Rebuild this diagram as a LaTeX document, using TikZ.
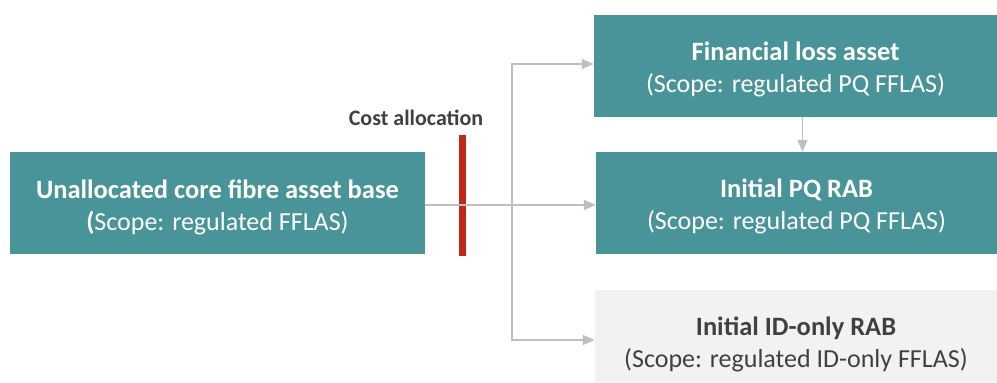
\documentclass[tikz,border=0pt]{standalone}
\usepackage{fontspec}
\setmainfont{Carlito}
\usetikzlibrary{arrows.meta,calc}
\definecolor{tealbox}{RGB}{73,148,153}
\definecolor{greybox}{RGB}{242,242,242}
\definecolor{linegrey}{RGB}{191,191,191}
\definecolor{cutred}{RGB}{192,40,26}
\definecolor{darktext}{RGB}{64,64,64}
\newcommand{\titletxt}[1]{{\fontsize{26.5}{32}\selectfont\bfseries #1}}
\newcommand{\scopetxt}[1]{{\fontsize{26}{32}\selectfont #1}}
\tikzset{
  assetbox/.style={rectangle, fill=tealbox, inner sep=0pt, minimum height=102pt},
  idbox/.style={assetbox, fill=greybox},
  boxtext/.style={align=center, inner sep=0pt, text=white, font=\fontsize{26}{32}\selectfont},
  idtext/.style={boxtext, text=darktext},
  conn/.style={draw=linegrey, line width=1.6pt, -{Triangle[length=12pt,width=10pt]}},
  cutbar/.style={rectangle, fill=cutred, inner sep=0pt, minimum width=7pt, minimum height=121pt},
}
\begin{document}
\begin{tikzpicture}[x=1pt,y=-1pt]
\useasboundingbox (0,0) rectangle (997,383);

% boxes
\node[assetbox, minimum width=415pt] (L) at (217.5,203) {};
\node[assetbox, minimum width=403pt] (T) at (795.5,66) {};
\node[assetbox, minimum width=401pt] (M) at (796.5,203) {};
\node[idbox, minimum width=402pt] (B) at (796,341) {};

% box captions, set slightly below the box centres
\node[boxtext] (Ltext) at ([yshift=-4pt]L.center)
  {\titletxt{Unallocated core fibre asset base}\\\scopetxt{\textbf{(}Scope: regulated FFLAS)}};
\node[boxtext] (Ttext) at ([yshift=-3.5pt]T.center)
  {\titletxt{Financial loss asset}\\\scopetxt{(Scope: regulated PQ FFLAS)}};
\node[boxtext] (Mtext) at ([yshift=-3.5pt]M.center)
  {\titletxt{Initial PQ RAB}\\\scopetxt{(Scope: regulated PQ FFLAS)}};
\node[idtext] (Btext) at ([yshift=-3pt]B.center)
  {\titletxt{Initial ID-only RAB}\\\scopetxt{(Scope: regulated ID-only FFLAS)}};

% cost allocation boundary
\node[cutbar] (cut) at (462.5,195.5) {};
\node[font=\fontsize{22}{26}\selectfont\bfseries, text=darktext] (cutlabel) at (416,118) {Cost allocation};

% connectors
\coordinate (split) at (512,205);
\draw[conn] (L.east |- split) -- (M.west |- split);
\draw[conn] (split) |- ([yshift=2pt]T.west);
\draw[conn] (split) |- ([yshift=1pt]B.west);
\draw[conn] ([xshift=7pt]T.south) -- ([xshift=6pt]M.north);
\end{tikzpicture}
\end{document}
